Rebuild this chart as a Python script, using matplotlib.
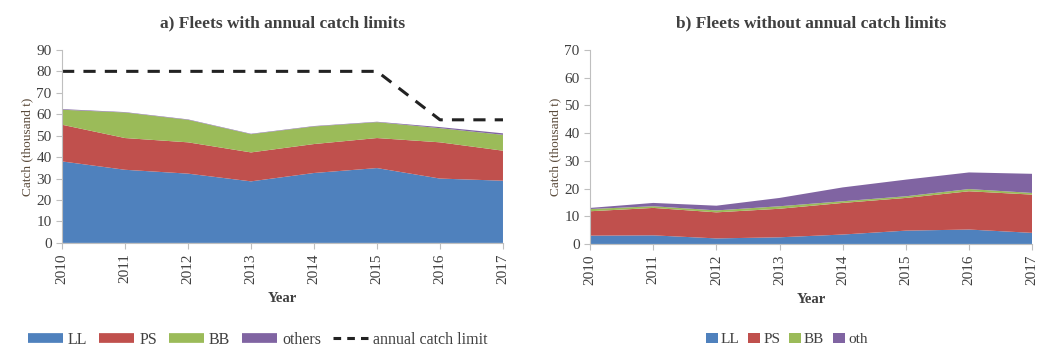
import numpy as np
import matplotlib
matplotlib.use('Agg')
import matplotlib.pyplot as plt
from matplotlib.patches import Patch
from matplotlib.lines import Line2D

plt.rcParams['font.family'] = ['Liberation Serif', 'DejaVu Serif']

years = [2010, 2011, 2012, 2013, 2014, 2015, 2016, 2017]

# a) fleets with annual catch limits (thousand t)
ll_a = [38.0, 34.1, 32.3, 28.7, 32.6, 34.9, 30.0, 29.0]
ps_a = [17.1, 14.8, 14.6, 13.5, 13.5, 14.0, 16.9, 14.0]
bb_a = [7.0, 11.9, 10.5, 8.5, 8.2, 7.4, 6.6, 7.4]
oth_a = [0.3, 0.2, 0.2, 0.2, 0.2, 0.2, 0.5, 0.7]
limit_a = [80, 80, 80, 80, 80, 80, 57.4, 57.4]

# b) fleets without annual catch limits (thousand t)
ll_b = [3.0, 3.1, 2.0, 2.4, 3.4, 4.8, 5.2, 4.0]
ps_b = [8.8, 9.9, 9.4, 10.3, 11.4, 11.8, 13.8, 13.8]
bb_b = [0.8, 0.6, 0.7, 0.9, 0.6, 0.6, 0.8, 0.6]
oth_b = [0.4, 1.2, 1.7, 3.0, 5.0, 6.0, 6.0, 6.9]

colors = ['#4F81BD', '#C0504D', '#9BBB59', '#8064A2']
txt = '#404040'
axcol = '#BFBFBF'

fig = plt.figure(figsize=(10.39, 3.49), dpi=100)
ax1 = fig.add_axes([0.0597, 0.304, 0.4244, 0.553])
ax2 = fig.add_axes([0.568, 0.301, 0.4254, 0.556])


def style_axis(ax, ymax, title):
    ax.set_xlim(years[0], years[-1])
    ax.set_ylim(0, ymax)
    ax.set_yticks(np.arange(0, ymax + 1, 10))
    ax.set_xticks(years)
    ax.set_xticklabels([str(y) for y in years], rotation=90)
    for s in ['top', 'right']:
        ax.spines[s].set_visible(False)
    for s in ['left', 'bottom']:
        ax.spines[s].set_color(axcol)
        ax.spines[s].set_linewidth(0.8)
    ax.tick_params(axis='both', colors=axcol, labelcolor=txt, labelsize=11,
                   length=4, width=0.8, direction='out')
    ax.set_ylabel('Catch (thousand t)', fontsize=9.5, color='#5a4a3a', labelpad=2)
    ax.set_xlabel('Year', fontsize=10.5, color=txt, fontweight='bold', labelpad=6)
    ax.set_title(title, fontsize=12.5, fontweight='bold', color=txt, pad=16)


ax1.stackplot(years, ll_a, ps_a, bb_a, oth_a, colors=colors, linewidth=0)
ax1.plot(years, limit_a, color='#222222', linestyle=(0, (4, 3)), linewidth=2.2)
style_axis(ax1, 90, 'a) Fleets with annual catch limits')

ax2.stackplot(years, ll_b, ps_b, bb_b, oth_b, colors=colors, linewidth=0)
style_axis(ax2, 70, 'b) Fleets without annual catch limits')

# legends
names_a = ['LL', 'PS', 'BB', 'others']
handles_a = [Line2D([0], [0], color=c, linewidth=7, solid_capstyle='butt') for c in colors]
handles_a.append(Line2D([0], [0], color='#222222', linestyle=(0, (2.5, 2)),
                        linewidth=2.2, dash_capstyle='butt'))
fig.legend(handles_a, names_a + ['annual catch limit'], loc='center',
           bbox_to_anchor=(0.248, 0.027), ncol=5, frameon=False, fontsize=11.5,
           handlelength=2.2, handletextpad=0.3, columnspacing=0.75,
           labelcolor=txt)

names_b = ['LL', 'PS', 'BB', 'oth']
handles_b = [Patch(facecolor=c) for c in colors]
fig.legend(handles_b, names_b, loc='center', bbox_to_anchor=(0.757, 0.027),
           ncol=4, frameon=False, fontsize=11, handlelength=0.8,
           handleheight=0.7, handletextpad=0.2, columnspacing=0.55,
           labelcolor=txt)

fig.savefig('out.png', dpi=100)
